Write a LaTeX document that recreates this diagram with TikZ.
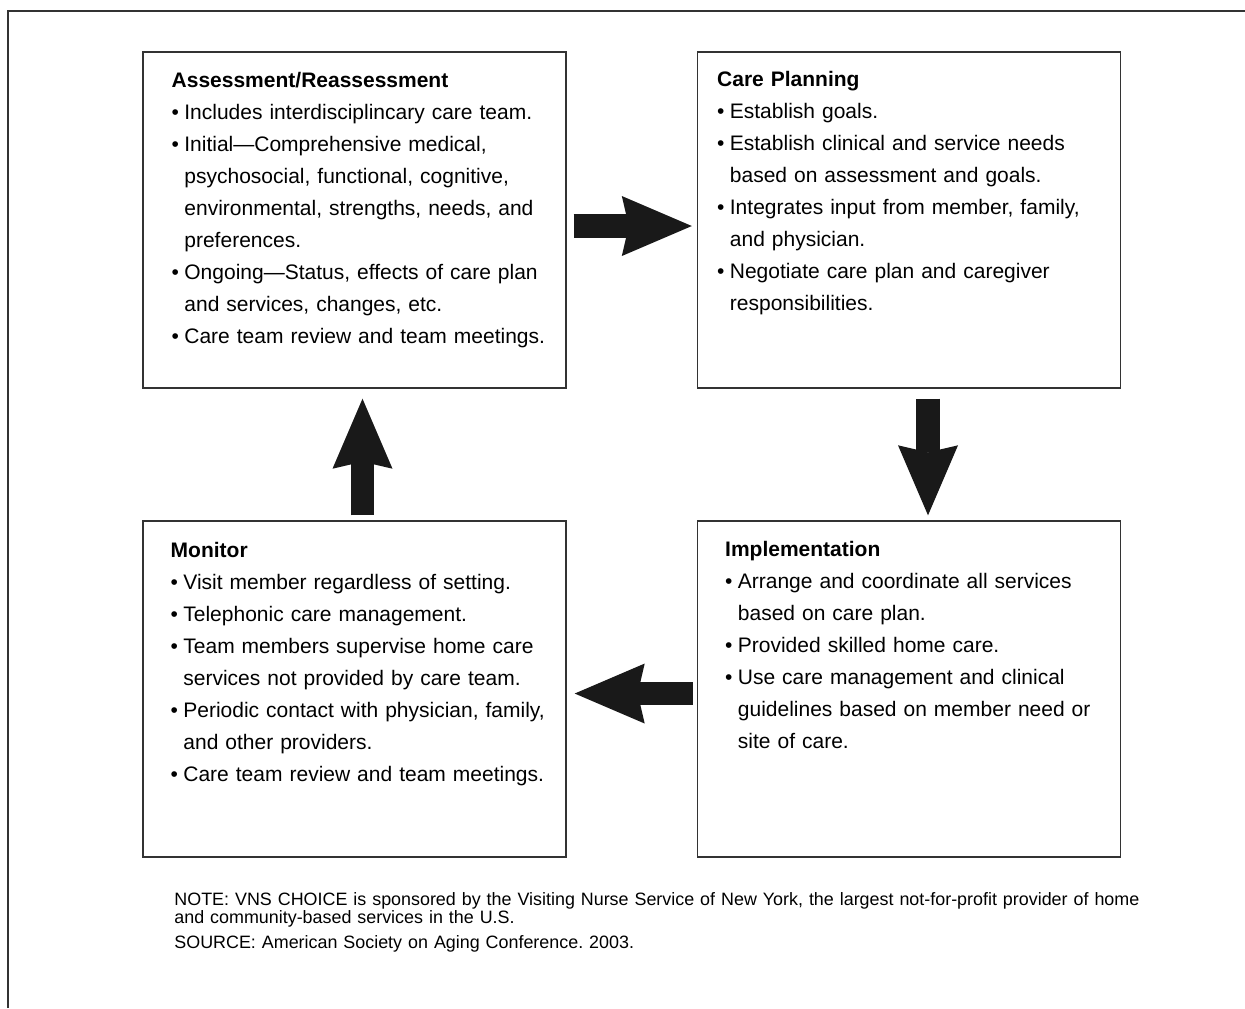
\documentclass[tikz,border=0pt]{standalone}
\usepackage{fontspec}
\setmainfont{Liberation Sans}
\usetikzlibrary{arrows.meta}

\newcommand{\bitem}{\makebox[6.35pt][l]{\textbullet}}
\newcommand{\cont}{\hspace*{6.35pt}}
\frenchspacing

\begin{document}
\begin{tikzpicture}[x=0.5pt,y=-0.5pt,
  stage/.style={draw=black!80, line width=0.7pt, minimum width=211.5pt, minimum height=168pt, inner sep=0pt},
  stagetext/.style={anchor=base west, inner sep=0pt, text width=200pt, align=left, font=\fontsize{10.5pt}{16pt}\selectfont},
  bigarrow/.style={line width=11.75pt, draw=black!90, -{Stealth[length=35pt,width=30pt,inset=3.5pt,line width=0pt]}},
  note/.style={anchor=base west, inner sep=0pt, text width=560pt, align=left, font=\fontsize{8.95pt}{8pt}\selectfont}]
\useasboundingbox (0,0) rectangle (1245,1008);

% open frame round the figure
\draw[black!80, line width=0.6pt] (8,1008) -- (8,11) -- (1245,11);

% the four stages
\node[stage] (assess) at (354.5,220) {};
\node[stage] (plan) at (909,220) {};
\node[stage] (monit) at (354.5,689) {};
\node[stage] (impl) at (909,689) {};

\node[stagetext] (assesstext) at ([shift={(29,36)}]assess.north west) {%
\textbf{Assessment/Reassessment}\\
\bitem Includes interdisciplincary care team.\\
\bitem Initial---Comprehensive medical,\\
\cont psychosocial, functional, cognitive,\\
\cont environmental, strengths, needs, and\\
\cont preferences.\\
\bitem Ongoing---Status, effects of care plan\\
\cont and services, changes, etc.\\
\bitem Care team review and team meetings.};

\node[stagetext] (plantext) at ([shift={(20,35)}]plan.north west) {%
\textbf{Care Planning}\\
\bitem Establish goals.\\
\bitem Establish clinical and service needs\\
\cont based on assessment and goals.\\
\bitem Integrates input from member, family,\\
\cont and physician.\\
\bitem Negotiate care plan and caregiver\\
\cont responsibilities.};

\node[stagetext] (monittext) at ([shift={(28,37)}]monit.north west) {%
\textbf{Monitor}\\
\bitem Visit member regardless of setting.\\
\bitem Telephonic care management.\\
\bitem Team members supervise home care\\
\cont services not provided by care team.\\
\bitem Periodic contact with physician, family,\\
\cont and other providers.\\
\bitem Care team review and team meetings.};

\node[stagetext] (impltext) at ([shift={(28,36)}]impl.north west) {%
\textbf{Implementation}\\
\bitem Arrange and coordinate all services\\
\cont based on care plan.\\
\bitem Provided skilled home care.\\
\bitem Use care management and clinical\\
\cont guidelines based on member need or\\
\cont site of care.};

% arrows round the cycle
\draw[bigarrow, shorten <=3.5pt, shorten >=2.5pt] ([yshift=-3pt]assess.east) -- ([yshift=-3pt]plan.west);
\draw[bigarrow, shorten <=5pt, shorten >=2.5pt] ([xshift=9.5pt]plan.south) -- ([xshift=9.5pt]impl.north);
\draw[bigarrow, shorten <=2pt, shorten >=4pt] ([yshift=-2.25pt]impl.west) -- ([yshift=-2.25pt]monit.east);
\draw[bigarrow, shorten <=2.5pt, shorten >=5pt] ([xshift=4pt]monit.north) -- ([xshift=4pt]assess.south);

\node[note] (notetext) at (174,905) {%
NOTE: VNS CHOICE is sponsored by the Visiting Nurse Service of New York, the largest not-for-profit provider of home\\
and community-based services in the U.S.\\[3pt]
SOURCE: American Society on Aging Conference. 2003.};
\end{tikzpicture}
\end{document}
